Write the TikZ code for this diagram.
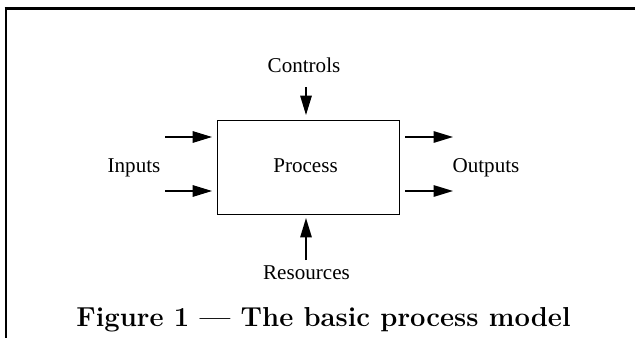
\documentclass[tikz,border=0pt]{standalone}
\usepackage{fontspec}
\newfontfamily\lblfont{Liberation Serif}
\usetikzlibrary{arrows.meta, positioning, calc}
\tikzset{
	procbox/.style ={rectangle, draw=black, line width=0.6pt, minimum width=3.64cm, minimum height=1.88cm, align=center, font=\lblfont\fontsize{12}{14}\selectfont, inner sep=0pt},
	lbl/.style     ={anchor=base, inner sep=0pt, font=\lblfont\fontsize{12}{14}\selectfont},
	caption/.style ={anchor=base, inner sep=0pt, font=\fontsize{15.6}{19}\bfseries},
	sig/.style     ={-{Triangle[length=11pt, width=6.5pt]}, line width=0.8pt},
}
\begin{document}
\begin{tikzpicture}[x=0.02cm, y=-0.02cm]
	\useasboundingbox (0,0) rectangle (635,338);
	% frame
	\draw[line width=1.7pt] (4.5,8.8) -- (635,8.8);
	\draw[line width=1.4pt] (6,8) -- (6,338);
	% process box and labels
	\node[procbox] (proc) at (308.5,167.5) {};
	\node[lbl] (ptext) at (305.5,172) {Process};
	\node[lbl] (inp) at (134,172) {Inputs};
	\node[lbl] (outp) at (486,172) {Outputs};
	\node[lbl] (ctl) at (304,72) {Controls};
	\node[lbl] (res) at (306.5,279) {Resources};
	\node[caption] (cap) at (323.5,326) {Figure 1 --- The basic process model};
	% arrow tails
	\coordinate (in1) at (165,137);
	\coordinate (in2) at (165,191);
	\coordinate (out1) at (453,137);
	\coordinate (out2) at (453,191);
	\coordinate (c0) at (306,87);
	\coordinate (r0) at (306,260);
	\draw[sig, shorten >=2.8pt] (in1) -- (in1 -| proc.west);
	\draw[sig, shorten >=2.8pt] (in2) -- (in2 -| proc.west);
	\draw[sig, shorten <=3pt] (out1 -| proc.east) -- (out1);
	\draw[sig, shorten <=3pt] (out2 -| proc.east) -- (out2);
	\draw[sig, shorten >=2.8pt] (c0) -- (c0 |- proc.north);
	\draw[sig, shorten >=1.7pt] (r0) -- (r0 |- proc.south);
\end{tikzpicture}
\end{document}
